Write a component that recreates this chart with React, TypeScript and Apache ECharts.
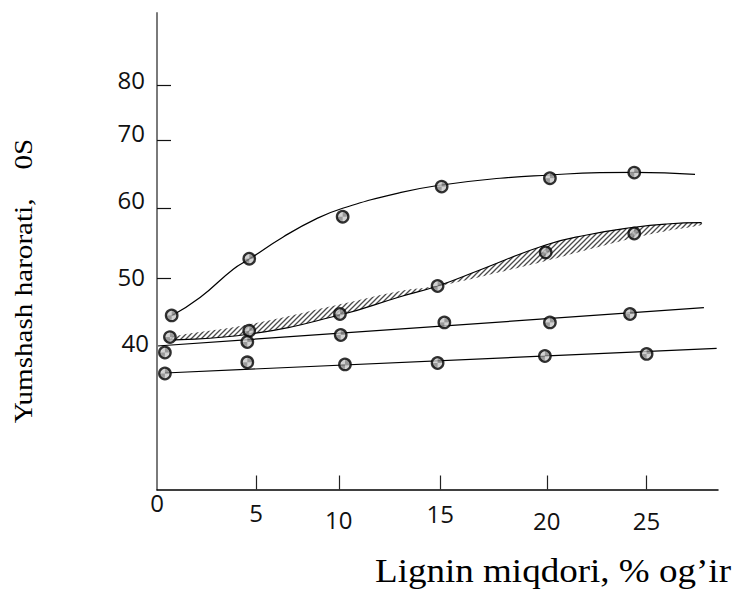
import React, { useEffect, useRef } from "react";
import * as echarts from "echarts";

// Measured points: lignin content, % (x) vs softening temperature, °C (y)
const ligninA = [0.76, 4.78, 9.62, 14.75, 20.36, 24.73];
const tempA = [44.7, 52.8, 58.8, 63.1, 64.3, 65.1];

const ligninB = [0.67, 4.78, 9.48, 14.54, 20.14, 24.73];
const tempB = [41.6, 42.5, 44.9, 48.9, 53.7, 56.4];

const ligninC = [0.41, 4.68, 9.52, 14.89, 20.36, 24.51];
const tempC = [39.4, 40.9, 41.9, 43.7, 43.7, 44.9];

const ligninD = [0.41, 4.68, 9.74, 14.54, 20.1, 25.37];
const tempD = [36.4, 38.0, 37.7, 37.9, 38.9, 39.2];

// Fitted curves
const curveAX = [0.76, 2.23, 3.95, 4.78, 6.54, 8.27, 9.62, 12.59, 14.75, 17.77, 20.36, 22.95, 24.73, 27.88];
const curveAY = [44.66, 47.26, 51.3, 52.74, 55.91, 58.53, 60.0, 62.23, 63.33, 64.29, 64.76, 65.09, 65.14, 64.86];

// Scatter band around curve B
const bandX = [0.67, 4.82, 9.48, 12.6, 14.54, 16.73, 20.14, 22.27, 24.73, 26.41, 28.22];
const bandUpper = [41.61, 43.43, 46.29, 48.19, 49.0, 51.19, 54.76, 56.19, 57.29, 57.76, 57.94];
const bandLower = [41.19, 42.04, 44.76, 47.37, 48.8, 50.19, 52.47, 54.04, 55.76, 56.76, 57.61];
const bandEdge = [41.19, 42.04, 44.76, 47.37, 48.9, 51.19, 54.76, 56.19, 57.29, 57.76, 57.94];

const lineCX = [0, 28.34];
const lineCY = [40.33, 45.8];
const lineDX = [0.41, 29.0];
const lineDY = [36.47, 40.0];

// Axis texts
const xTickLabels = ["0", "5", "10", "15", "20", "25"];
const yTickLabels = ["40", "50", "60", "70", "80"];
const xTitle = "Lignin miqdori, % og\u2019ir";
const yTitle = "Yumshash harorati,    0S";

// Where the hand-placed ticks and labels sit on each axis scale
const xMarkAt = [0, 5.13, 9.42, 14.68, 20.2, 25.36];
const xLabelDrop = [0, 10, 17, 11, 18, 18];
const yLabelAt = [40.9, 50.19, 61.19, 70.76, 78.47];
const yTickAt = [50, 60, 69.76, 77.61];

const pairs = (xs: number[], ys: number[]) => xs.map((x, i) => [x, ys[i]]);

const nearestIndex = (arr: number[], v: number) => {
  let best = 0;
  arr.forEach((a, i) => {
    if (Math.abs(a - v) < Math.abs(arr[best] - v)) best = i;
  });
  return best;
};

function hatchTile(size: number, bg: string | null, fg: string, lw: number) {
  const c = document.createElement("canvas");
  c.width = size;
  c.height = size;
  const g = c.getContext("2d")!;
  if (bg) {
    g.fillStyle = bg;
    g.fillRect(0, 0, size, size);
  }
  g.strokeStyle = fg;
  g.lineWidth = lw;
  g.beginPath();
  g.moveTo(0, size);
  g.lineTo(size, 0);
  g.moveTo(-size / 2, size / 2);
  g.lineTo(size / 2, -size / 2);
  g.moveTo(size / 2, size * 1.5);
  g.lineTo(size * 1.5, size / 2);
  g.stroke();
  return c;
}

export default function App() {
  const ref = useRef<HTMLDivElement>(null);

  useEffect(() => {
    document.body.style.margin = "0";
    if (!ref.current) return;
    const chart = echarts.init(ref.current, null, { renderer: "svg" });

    const bandHatch = { image: hatchTile(5, null, "#4a4a4a", 1.3), repeat: "repeat", imageWidth: 5, imageHeight: 5 };
    const markerHatch = { image: hatchTile(8, "#e8e8e8", "#7a7a7a", 1.1), repeat: "repeat", imageWidth: 8, imageHeight: 8 };

    const numFont = '"Open Sans", "Noto Sans", sans-serif';
    const serif = '"Liberation Serif", "Times New Roman", serif';

    const xRich: Record<string, any> = {};
    xLabelDrop.forEach((d, i) => {
      xRich["x" + i] = { fontSize: 24, fontFamily: numFont, color: "#111", padding: [d, 0, 0, 0] };
    });
    const yRich: Record<string, any> = {
      y0: { fontSize: 24, fontFamily: numFont, color: "#111", padding: [0, 0, 0, 0] },
      yn: { fontSize: 24, fontFamily: numFont, color: "#111", padding: [0, 4, 0, 0] },
    };

    const marker = (name: string, xs: number[], ys: number[]) => ({
      name,
      type: "scatter",
      data: pairs(xs, ys),
      symbol: "circle",
      symbolSize: 11.5,
      z: 5,
      itemStyle: { color: markerHatch, borderColor: "#000", borderWidth: 2.3 },
    });

    const curve = (name: string, xs: number[], ys: number[], smooth: boolean | number) => ({
      name,
      type: "line",
      data: pairs(xs, ys),
      symbol: "none",
      smooth,
      z: 3,
      lineStyle: { color: "#000", width: 1.2 },
    });

    chart.setOption({
      animation: false,
      backgroundColor: "#fff",
      grid: { left: 157, right: 18, top: 13, bottom: 117.5, containLabel: false, outerBoundsMode: "none" },
      xAxis: {
        type: "value",
        min: 0,
        max: 29.07,
        z: 10,
        splitLine: { show: false },
        axisLine: { onZero: false, lineStyle: { color: "#000", width: 1.5 } },
        axisTick: { show: true, inside: true, length: 14, customValues: xMarkAt.slice(1), lineStyle: { color: "#222", width: 1.2 } },
        axisLabel: {
          customValues: xMarkAt,
          margin: 1,
          hideOverlap: false,
          formatter: (v: number) => {
            const i = nearestIndex(xMarkAt, v);
            return "{x" + i + "|" + xTickLabels[i] + "}";
          },
          rich: xRich,
        },
      },
      yAxis: {
        type: "value",
        min: 19.829,
        max: 87.9,
        z: 10,
        splitLine: { show: false },
        axisLine: { onZero: false, lineStyle: { color: "#7a7a7a", width: 2 } },
        axisTick: { show: true, inside: true, length: 14, customValues: yTickAt, lineStyle: { color: "#111", width: 1.2 } },
        axisLabel: {
          customValues: yLabelAt,
          margin: 8,
          hideOverlap: false,
          formatter: (v: number) => {
            const i = nearestIndex(yLabelAt, v);
            return (i === 0 ? "{y0|" : "{yn|") + yTickLabels[i] + "}";
          },
          rich: yRich,
        },
      },
      graphic: [
        {
          type: "text",
          x: 23,
          y: 281,
          rotation: Math.PI / 2,
          scaleX: 1.12,
          style: {
            text: yTitle,
            font: "26px " + serif,
            fill: "#000",
            align: "center",
            verticalAlign: "middle",
            textAlign: "center",
            textVerticalAlign: "middle",
          },
        },
        {
          type: "text",
          x: 375,
          y: 571,
          scaleX: 1.09,
          style: {
            text: xTitle,
            font: "34px " + serif,
            fill: "#000",
            align: "left",
            verticalAlign: "middle",
            textAlign: "left",
            textVerticalAlign: "middle",
          },
        },
      ],
      series: [
        {
          // hatched region between the upper and lower bounds of curve B
          name: "band",
          type: "custom",
          coordinateSystem: "cartesian2d",
          data: bandX.map((x, i) => [x, bandUpper[i], bandLower[i]]),
          encode: { x: 0, y: [1, 2] },
          z: 1,
          silent: true,
          renderItem: (params: any, api: any) => {
            if (params.dataIndex !== 0) return null;
            const top = bandX.map((x, i) => api.coord([x, bandUpper[i]]));
            const bottom = bandX.map((x, i) => api.coord([x, bandLower[i]])).reverse();
            return {
              type: "polygon",
              shape: { points: top.concat(bottom), smooth: 0.4 },
              style: { fill: bandHatch, stroke: null },
            };
          },
        },
        curve("curveB", bandX, bandEdge, true),
        curve("curveA", curveAX, curveAY, true),
        curve("lineC", lineCX, lineCY, false),
        curve("lineD", lineDX, lineDY, false),
        marker("A", ligninA, tempA),
        marker("B", ligninB, tempB),
        marker("C", ligninC, tempC),
        marker("D", ligninD, tempD),
      ],
    });

    return () => chart.dispose();
  }, []);

  return <div ref={ref} style={{ width: 736, height: 607 }} />;
}
